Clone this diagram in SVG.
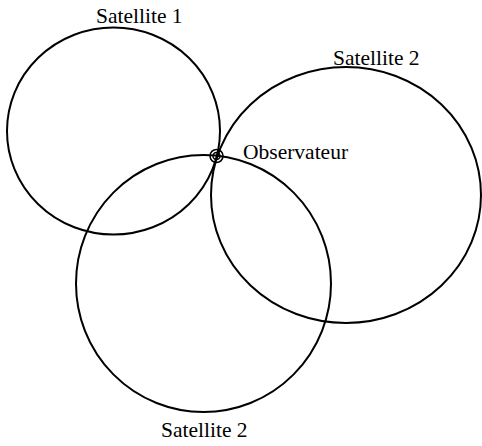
<svg xmlns="http://www.w3.org/2000/svg" width="482" height="446" viewBox="0 0 482 446">
<style>
.c{fill:none;stroke:#000;stroke-width:2}
.o{fill:none;stroke:#000;stroke-width:1.5}
text{font-family:"Liberation Serif","Times New Roman",serif;font-size:21.5px;fill:#000}
</style>
<rect width="482" height="446" fill="#fff"/>
<g id="sat1">
<ellipse class="c" cx="113.5" cy="131" rx="106.5" ry="103.5"/>
<text x="96" y="23">Satellite 1</text>
</g>
<g id="sat2a">
<ellipse class="c" cx="346" cy="195" rx="135" ry="128"/>
<text x="333" y="65">Satellite 2</text>
</g>
<g id="sat2b">
<ellipse class="c" cx="203.5" cy="283.5" rx="127.5" ry="128.5"/>
<text x="161" y="437">Satellite 2</text>
</g>
<g id="observateur">
<circle class="o" cx="216.5" cy="156" r="6.5"/>
<circle class="o" cx="216.5" cy="156" r="3.5"/>
<text x="243" y="159">Observateur</text>
</g>
</svg>
